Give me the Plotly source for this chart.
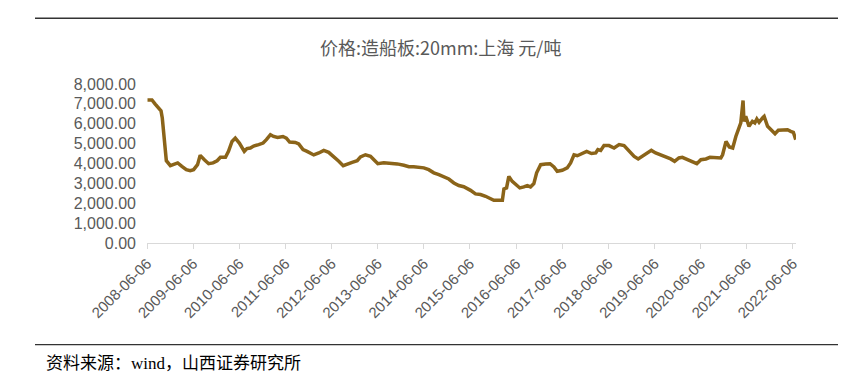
import plotly.graph_objects as go

dates = [
    "2008-06-10", "2008-07-15", "2008-08-10", "2008-09-06", "2008-09-25", "2008-10-05", "2008-10-20",
    "2008-11-06", "2008-12-08", "2009-01-03", "2009-02-04", "2009-03-09", "2009-04-13", "2009-05-14",
    "2009-06-10", "2009-07-11", "2009-08-01", "2009-09-03", "2009-10-07", "2009-11-11", "2009-12-13",
    "2010-01-08", "2010-02-17", "2010-03-13", "2010-04-10", "2010-05-06", "2010-06-07", "2010-07-16",
    "2010-08-06", "2010-09-02", "2010-09-28", "2010-11-07", "2010-12-12", "2011-01-07", "2011-02-08",
    "2011-03-05", "2011-04-06", "2011-05-18", "2011-06-14", "2011-07-10", "2011-08-24", "2011-09-20",
    "2011-10-24", "2011-11-25", "2011-12-21", "2012-01-17", "2012-02-26", "2012-04-05", "2012-05-14",
    "2012-06-23", "2012-08-02", "2012-09-06", "2012-10-08", "2012-11-16", "2012-12-26", "2013-01-21",
    "2013-03-01", "2013-04-10", "2013-05-11", "2013-06-07", "2013-07-24", "2013-09-02", "2013-11-08",
    "2013-12-30", "2014-02-08", "2014-03-18", "2014-04-27", "2014-06-06", "2014-07-15", "2014-08-24",
    "2014-10-03", "2014-11-12", "2014-12-21", "2015-01-30", "2015-03-10", "2015-04-18", "2015-06-11",
    "2015-07-20", "2015-08-29", "2015-10-08", "2015-11-16", "2015-12-12", "2016-02-18", "2016-03-01",
    "2016-03-22", "2016-04-09", "2016-05-06", "2016-06-01", "2016-07-05", "2016-08-06", "2016-09-02",
    "2016-09-28", "2016-10-24", "2016-11-15", "2016-12-17", "2017-01-26", "2017-03-01", "2017-04-01",
    "2017-04-27", "2017-06-06", "2017-07-15", "2017-08-11", "2017-09-07", "2017-10-03", "2017-11-12",
    "2017-12-16", "2018-01-23", "2018-02-26", "2018-03-15", "2018-04-06", "2018-05-02", "2018-06-11",
    "2018-07-21", "2018-08-30", "2018-10-08", "2018-11-17", "2018-12-27", "2019-01-28", "2019-03-03",
    "2019-04-11", "2019-05-12", "2019-06-15", "2019-07-24", "2019-09-02", "2019-10-12", "2019-11-12",
    "2019-12-16", "2020-01-12", "2020-02-22", "2020-04-01", "2020-05-06", "2020-06-07", "2020-07-17",
    "2020-08-18", "2020-10-03", "2020-11-12", "2020-11-26", "2020-12-23", "2021-01-18", "2021-02-14",
    "2021-03-11", "2021-03-29", "2021-04-19", "2021-05-07", "2021-05-14", "2021-05-28", "2021-06-23",
    "2021-07-20", "2021-08-08", "2021-08-24", "2021-09-11", "2021-10-08", "2021-10-21", "2021-11-17",
    "2021-12-14", "2022-01-15", "2022-02-10", "2022-03-16", "2022-04-24", "2022-05-19", "2022-06-09",
    "2022-06-28",
]
prices = [
    7200, 7200, 6990, 6750, 6650, 6290, 5110,
    4140, 3890, 3940, 4030, 3860, 3690, 3640,
    3690, 3940, 4410, 4190, 3990, 4030, 4140,
    4310, 4310, 4610, 5110, 5280, 5030, 4610,
    4750, 4780, 4880, 4950, 5030, 5200, 5450,
    5360, 5310, 5360, 5280, 5080, 5060, 4980,
    4700, 4610, 4530, 4430, 4530, 4660, 4560,
    4360, 4110, 3890, 3980, 4060, 4140, 4330,
    4440, 4360, 4160, 3990, 4040, 4030, 3980,
    3910, 3840, 3840, 3810, 3780, 3690, 3530,
    3440, 3320, 3220, 3020, 2890, 2830, 2650,
    2470, 2440, 2350, 2240, 2150, 2150, 2720,
    2770, 3350, 3100, 2940, 2770, 2820, 2890,
    2820, 2990, 3530, 3940, 3980, 3990, 3830,
    3610, 3660, 3780, 4030, 4440, 4390, 4500,
    4610, 4500, 4530, 4700, 4660, 4900, 4900,
    4780, 4950, 4900, 4610, 4360, 4230, 4360,
    4530, 4660, 4530, 4440, 4360, 4230, 4110,
    4280, 4310, 4190, 4080, 3990, 4190, 4230,
    4310, 4280, 4280, 4440, 5110, 4830, 4780,
    5360, 5700, 6040, 7170, 6120, 6370, 5870,
    6120, 6040, 6240, 6070, 6290, 6370, 5870,
    5670, 5500, 5670, 5700, 5700, 5620, 5570,
    5200,
]
tick_dates = ["%d-06-06" % y for y in range(2008, 2023)]
tick_labels = tick_dates
y_ticks = [0, 1000, 2000, 3000, 4000, 5000, 6000, 7000, 8000]
y_labels = ["{:,.2f}".format(v) for v in y_ticks]

title_text = "价格:造船板:20mm:上海 元/吨"
source_text = "资料来源：wind，山西证券研究所"

# page body has an 8px margin; figure fills the rest of the 852x376 window
OFF = 8
W, H = 852 - OFF, 376 - OFF
# plot area in window pixels
L, R = 147, 796
T, B = 84, 243.5


def px_x(p):
    return (p - L) / (R - L)


def px_y(p):
    return (B - p) / (B - T)


fig = go.Figure()
fig.add_trace(go.Scatter(
    x=dates, y=prices, mode="lines",
    line=dict(color="#8B6419", width=3.5),
    showlegend=False,
))

fig.update_layout(
    width=W, height=H,
    margin=dict(l=L - OFF, r=W - (R - OFF), t=T - OFF, b=H - (B - OFF), autoexpand=False),
    paper_bgcolor="white", plot_bgcolor="white",
    font=dict(family="Arial, Liberation Sans, sans-serif", color="#595959"),
    xaxis=dict(
        type="date",
        range=["2008-06-06", "2022-06-30"],
        tickvals=tick_dates, ticktext=tick_labels,
        tickangle=-45,
        showgrid=False, zeroline=False,
        showline=True, linecolor="#D9D9D9", linewidth=1,
        ticks="outside", ticklen=5, tickcolor="#D9D9D9",
        tickfont=dict(size=15, color="#595959", family="Arial, Liberation Sans, sans-serif"),
    ),
    yaxis=dict(
        range=[0, 8000],
        tickvals=y_ticks, ticktext=y_labels,
        showgrid=False, zeroline=False, showline=False,
        ticks="", ticklabelstandoff=10,
        tickfont=dict(size=16, color="#595959", family="Arial, Liberation Sans, sans-serif"),
    ),
    shapes=[
        dict(type="line", xref="paper", yref="paper",
             x0=px_x(35), x1=px_x(838), y0=px_y(18), y1=px_y(18),
             line=dict(color="#333333", width=1.5)),
        dict(type="line", xref="paper", yref="paper",
             x0=px_x(35), x1=px_x(838), y0=px_y(345.5), y1=px_y(345.5),
             line=dict(color="#333333", width=1.2)),
    ],
    annotations=[
        dict(text=title_text, xref="paper", yref="paper",
             x=px_x(440), y=px_y(47), xanchor="center", yanchor="middle",
             showarrow=False,
             font=dict(size=18, color="#595959", family="Noto Sans CJK SC, sans-serif")),
        dict(text=source_text, xref="paper", yref="paper",
             x=px_x(44), y=px_y(364), xanchor="left", yanchor="middle",
             showarrow=False,
             font=dict(size=17, color="#000000", family="Liberation Serif, Noto Sans CJK SC, serif")),
    ],
)

fig.write_html("out.html")
